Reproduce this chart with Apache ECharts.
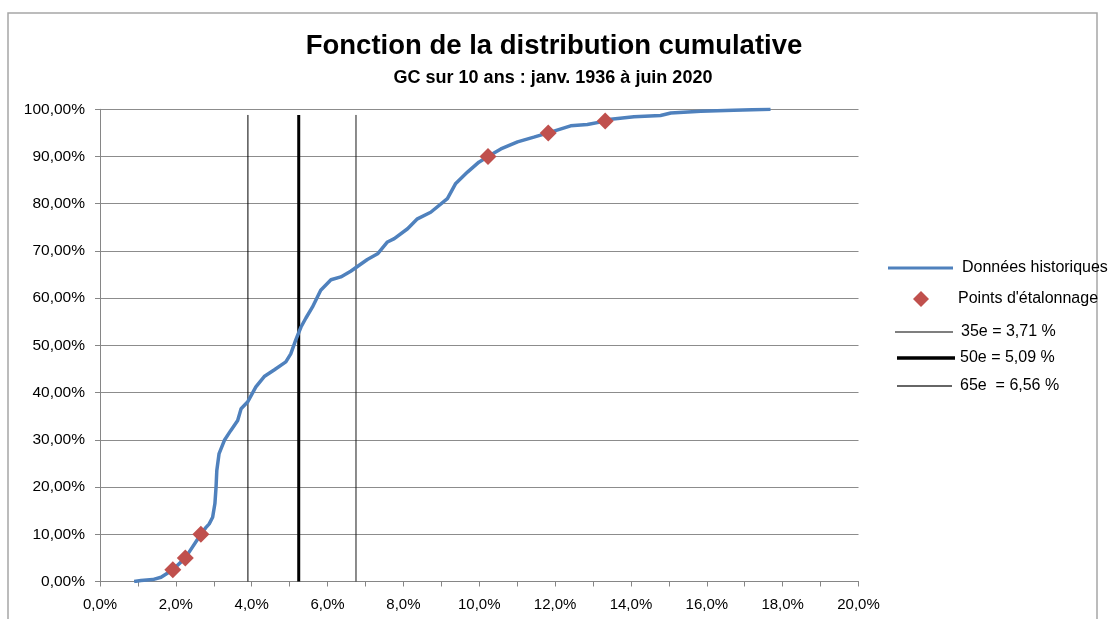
<!DOCTYPE html>
<html>
<head>
<meta charset="utf-8">
<script src="https://cdn.jsdelivr.net/npm/echarts@6/dist/echarts.min.js"></script>
<style>
html,body{margin:0;padding:0;background:#fff;}
#chart{width:1115px;height:619px;}
</style>
</head>
<body>
<div id="chart"></div>
<script>
// ---- Data ----
const titleText = "Fonction de la distribution cumulative";
const subtitleText = "GC sur 10 ans : janv. 1936 à juin 2020";

// Historical cumulative distribution: rate (%) vs cumulative share (%)
const histX = [0.90, 1.08, 1.39, 1.61, 1.92, 2.25, 2.66, 2.79, 2.88, 2.97, 3.03, 3.06, 3.08, 3.14, 3.28, 3.45, 3.63, 3.72, 3.89, 4.11, 4.33, 4.59, 4.90, 5.03, 5.16, 5.30, 5.43, 5.60, 5.82, 6.09, 6.35, 6.61, 7.05, 7.32, 7.58, 7.76, 8.11, 8.37, 8.72, 9.16, 9.38, 9.69, 9.99, 10.23, 10.57, 11.01, 11.44, 11.82, 12.41, 12.85, 13.32, 13.47, 14.08, 14.78, 15.05, 15.84, 16.71, 17.68];
const histY = [0, 0.2, 0.4, 0.9, 2.5, 5.0, 10.0, 11.4, 12.2, 13.6, 16.5, 20.0, 23.5, 27.1, 29.9, 32.0, 34.1, 36.6, 38.0, 41.2, 43.4, 44.8, 46.5, 48.2, 51.1, 53.9, 55.8, 58.1, 61.7, 63.9, 64.5, 65.7, 68.2, 69.4, 71.9, 72.6, 74.7, 76.8, 78.2, 81.1, 84.3, 86.7, 88.8, 90.0, 91.6, 93.1, 94.1, 95.0, 96.5, 96.8, 97.5, 97.9, 98.4, 98.7, 99.2, 99.6, 99.8, 100.0];

// Calibration points
const calibX = [1.92, 2.25, 2.66, 10.23, 11.82, 13.32];
const calibY = [2.5, 5.0, 10.0, 90.0, 95.0, 97.5];

// Percentile vertical lines (names as in the legend, positions as drawn)
const pctNames = ["35e = 3,71 %", "50e = 5,09 %", "65e  = 6,56 %"];
const pctX = [3.90, 5.24, 6.75];
const pctTop = [98.8, 98.8, 98.8];

const seriesNames = ["Données historiques", "Points d'étalonnage"];

// ---- Chart ----
const FONT = "Liberation Sans";
const chart = echarts.init(document.getElementById('chart'), null, {renderer: 'canvas'});

const lineWidths = [1, 3, 1];
const lineColors = ['#000000', '#000000', '#1a1a1a'];

const series = [
  {
    name: seriesNames[0],
    type: 'line',
    data: histX.map((x, i) => [x, histY[i]]),
    symbol: 'none',
    lineStyle: {color: '#4F81BD', width: 3.5},
    itemStyle: {color: '#4F81BD'},
    z: 3
  },
  {
    name: seriesNames[1],
    type: 'scatter',
    data: calibX.map((x, i) => [x, calibY[i]]),
    symbol: 'diamond',
    symbolSize: 17,
    itemStyle: {color: '#C0504D', opacity: 1},
    z: 5
  }
];
pctNames.forEach((n, i) => {
  series.push({
    name: n,
    type: 'line',
    data: [[pctX[i], 0], [pctX[i], pctTop[i]]],
    symbol: 'none',
    lineStyle: {color: lineColors[i], width: lineWidths[i]},
    itemStyle: {color: lineColors[i]},
    z: 2
  });
});

const legendCY = [268, 299, 332, 358, 386];
const legendLefts = [888, 913, 895, 897, 897];
const legendWidths = [65, 16, 58, 58, 55];
const legendHeights = [3, 16, 1, 3.5, 1.5];
const legendIcons = ['rect', 'diamond', 'rect', 'rect', 'rect'];
const legendTextPad = [4, 24, 3, 0, 3];
const legendNames = [seriesNames[0], seriesNames[1]].concat(pctNames);
const legendColors = ['#4F81BD', '#C0504D', '#000', '#000', '#333'];
const legends = legendNames.map((n, i) => ({
  data: [{name: n, icon: legendIcons[i], itemStyle: {color: legendColors[i]}}],
  left: legendLefts[i],
  top: legendCY[i] - 9,
  orient: 'vertical',
  itemWidth: legendWidths[i],
  itemHeight: legendHeights[i],
  itemGap: 0,
  padding: 0,
  selectedMode: false,
  textStyle: {fontFamily: FONT, fontSize: 16, color: '#000', height: 18, lineHeight: 18,
              padding: [0, 0, 0, legendTextPad[i]]}
}));

const option = {
  backgroundColor: '#ffffff',
  animation: false,
  title: [
    {text: titleText, left: 549, top: 27, textAlign: 'center',
     textStyle: {fontFamily: FONT, fontSize: 27.5, fontWeight: 'bold', color: '#000'}},
    {text: subtitleText, left: 548, top: 64, textAlign: 'center',
     textStyle: {fontFamily: FONT, fontSize: 18, fontWeight: 'bold', color: '#000'}}
  ],
  legend: legends,
  grid: {left: 100, right: 256.5, top: 109.3, bottom: 37.5, containLabel: false},
  xAxis: {
    type: 'value', min: 0, max: 20, interval: 2,
    axisLine: {show: true, lineStyle: {color: '#868686', width: 1}},
    axisTick: {show: true, inside: false, length: 5, lineStyle: {color: '#868686'}},
    minorTick: {show: true, splitNumber: 2, length: 5, lineStyle: {color: '#868686'}},
    splitLine: {show: false},
    axisLabel: {
      margin: 16, color: '#000', fontFamily: FONT, fontSize: 15,
      formatter: v => v.toFixed(1).replace('.', ',') + '%'
    }
  },
  yAxis: {
    type: 'value', min: 0, max: 100, interval: 10,
    axisLine: {show: true, lineStyle: {color: '#868686', width: 1}},
    axisTick: {show: true, inside: false, length: 5, lineStyle: {color: '#868686'}},
    splitLine: {show: true, lineStyle: {color: '#8c8c8c', width: 1.2}},
    axisLabel: {
      margin: 15, color: '#000', fontFamily: FONT, fontSize: 15.5,
      formatter: v => v.toFixed(2).replace('.', ',') + '%'
    }
  },
  graphic: [
    {type: 'rect', shape: {x: 8, y: 13, width: 1089, height: 640},
     style: {fill: 'none', stroke: '#a6a6a6', lineWidth: 1.5}, silent: true, z: 0}
  ],
  series: series
};
chart.setOption(option);
</script>
</body>
</html>
